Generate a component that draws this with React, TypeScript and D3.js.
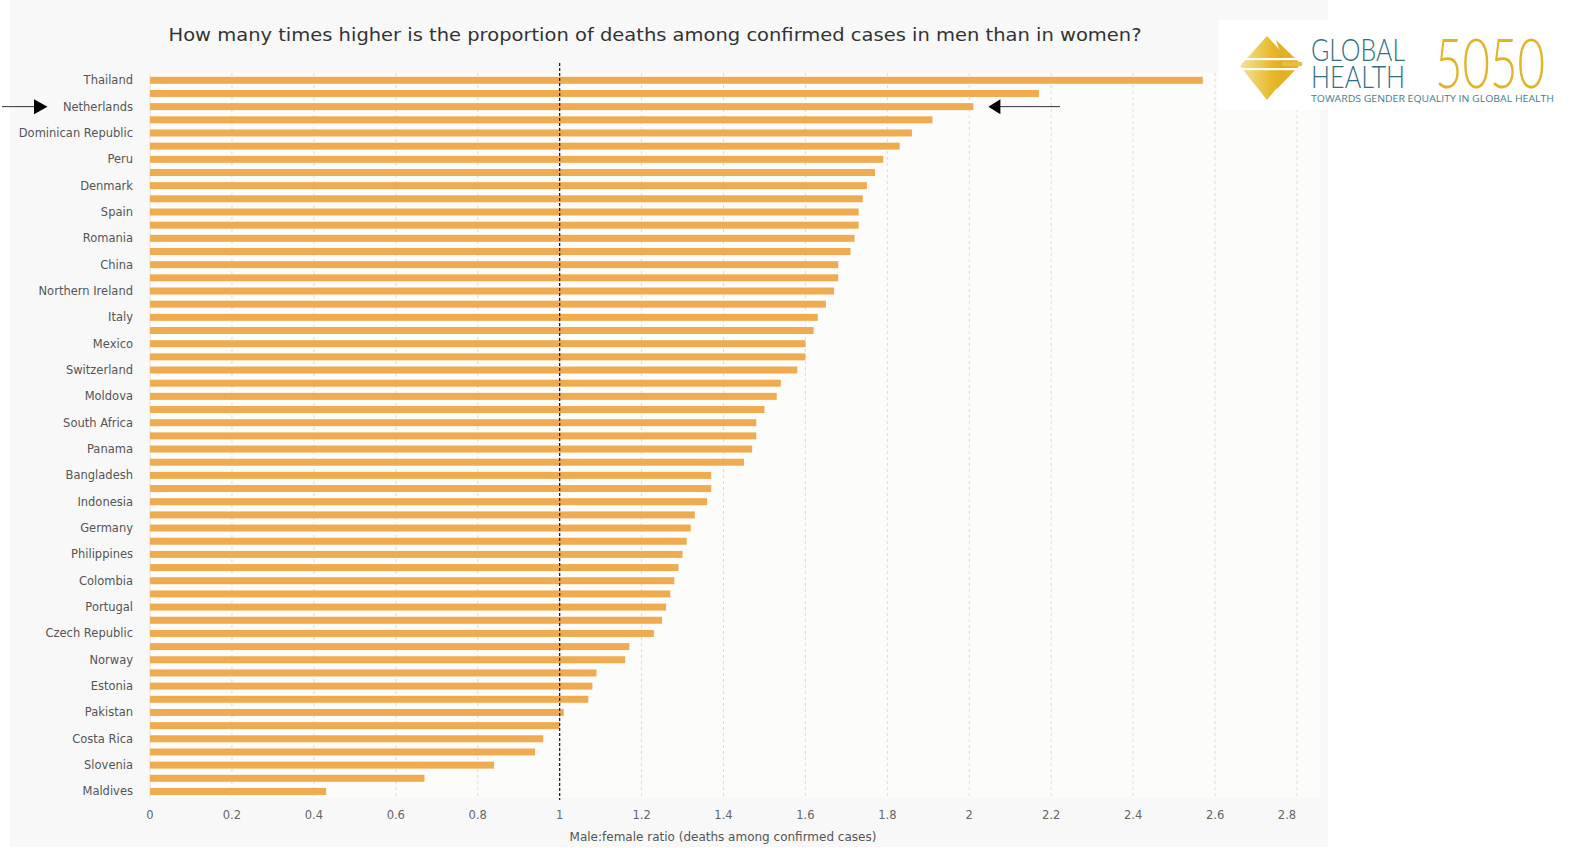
import React from "react";
import * as d3 from "d3";

const countries: string[] = [
  "Thailand", "Haiti", "Netherlands", "Greece", "Dominican Republic", "Ecuador", "Peru", "Scotland",
  "Denmark", "Belgium", "Spain", "England", "Romania", "Wales", "China", "Israel",
  "Northern Ireland", "Sweden", "Italy", "Finland", "Mexico", "Austria", "Switzerland", "Ukraine",
  "Moldova", "India", "South Africa", "Canada", "Panama", "Chile", "Bangladesh", "Argentina",
  "Indonesia", "Malawi", "Germany", "Nigeria", "Philippines", "Australia", "Colombia", "Kenya",
  "Portugal", "Iceland", "Czech Republic", "Jamaica", "Norway", "Guatemala", "Estonia", "Afghanistan",
  "Pakistan", "Sudan", "Costa Rica", "Cuba", "Slovenia", "Bulgaria", "Maldives",
];

const ratios: number[] = [
  2.57, 2.17, 2.01, 1.91, 1.86, 1.83, 1.79, 1.77,
  1.75, 1.74, 1.73, 1.73, 1.72, 1.71, 1.68, 1.68,
  1.67, 1.65, 1.63, 1.62, 1.60, 1.60, 1.58, 1.54,
  1.53, 1.50, 1.48, 1.48, 1.47, 1.45, 1.37, 1.37,
  1.36, 1.33, 1.32, 1.31, 1.30, 1.29, 1.28, 1.27,
  1.26, 1.25, 1.23, 1.17, 1.16, 1.09, 1.08, 1.07,
  1.01, 1.00, 0.96, 0.94, 0.84, 0.67, 0.43,
];

const xTicks: number[] = [0, 0.2, 0.4, 0.6, 0.8, 1, 1.2, 1.4, 1.6, 1.8, 2, 2.2, 2.4, 2.6, 2.8];

const titleText = "How many times higher is the proportion of deaths among confirmed cases in men than in women?";
const xAxisTitle = "Male:female ratio (deaths among confirmed cases)";
const highlighted = "Netherlands";

const W = 1572;
const H = 848;

export default function App() {
  const x = d3.scaleLinear().domain([0, 2.8]).range([150, 1297]);
  const y = d3
    .scaleBand<string>()
    .domain(countries)
    .range([73.7, 73.7 + 55 * 13.17])
    .paddingInner(0.47)
    .paddingOuter(0.235);
  const plotTop = 73;
  const plotBottom = 798;
  const font = "'DejaVu Sans', Verdana, sans-serif";
  const hy = (y(highlighted) ?? 0) + y.bandwidth() / 2;
  const hx = x(ratios[countries.indexOf(highlighted)]);

  return (
    <div style={{ position: "absolute", left: 0, top: 0 }}>
      <svg width={W} height={H} style={{ display: "block", background: "#ffffff" }}>
        <defs>
          <linearGradient id="gold" x1="0" y1="0" x2="1" y2="0">
            <stop offset="0" stopColor="#f6e39a" />
            <stop offset="0.6" stopColor="#e7b828" />
            <stop offset="1" stopColor="#d9a317" />
          </linearGradient>
        </defs>
        {/* card */}
        <rect x={10} y={0} width={1318} height={847} fill="#f8f8f8" />
        <rect x={150} y={plotTop} width={1170} height={plotBottom - plotTop} fill="#fcfcfa" />

        {/* title */}
        <text
          x={655}
          y={41}
          textAnchor="middle"
          fontFamily={font}
          fontSize={18.5}
          fill="#333"
          textLength={973}
          lengthAdjust="spacingAndGlyphs"
        >
          {titleText}
        </text>

        {/* grid lines */}
        {xTicks.map((t) =>
          t === 0 ? null : (
            <line
              key={"g" + t}
              x1={x(t)}
              x2={x(t)}
              y1={plotTop}
              y2={plotBottom}
              stroke="#dcdcdc"
              strokeWidth={1}
              strokeDasharray="3,3"
            />
          )
        )}
        <line x1={x(0)} x2={x(0)} y1={plotTop} y2={plotBottom} stroke="#e2e2e2" strokeWidth={1} />

        {/* bars */}
        {countries.map((c, i) => (
          <rect
            key={c}
            x={x(0)}
            y={y(c)}
            width={x(ratios[i]) - x(0)}
            height={y.bandwidth()}
            fill="#eeab50"
          />
        ))}

        {/* reference line at 1 */}
        <line
          x1={x(1)}
          x2={x(1)}
          y1={63}
          y2={plotBottom + 2}
          stroke="#222"
          strokeWidth={1.3}
          strokeDasharray="3,2"
        />

        {/* y labels (every other) */}
        {countries.map((c, i) =>
          i % 2 === 0 ? (
            <text
              key={"l" + c}
              x={133}
              y={(y(c) ?? 0) + y.bandwidth() / 2}
              dy="0.35em"
              textAnchor="end"
              fontFamily={font}
              fontSize={11.5}
              fill="#555"
            >
              {c}
            </text>
          ) : null
        )}

        {/* x tick labels */}
        {xTicks.map((t, i) => (
          <text
            key={"t" + t}
            x={i === xTicks.length - 1 ? x(t) - 10 : x(t)}
            y={819}
            textAnchor="middle"
            fontFamily={font}
            fontSize={11.5}
            fill="#666"
          >
            {String(t)}
          </text>
        ))}
        <text x={723} y={841} textAnchor="middle" fontFamily={font} fontSize={12} fill="#555">
          {xAxisTitle}
        </text>

        {/* arrows */}
        <line x1={2} x2={36} y1={hy} y2={hy} stroke="#333" strokeWidth={1} />
        <polygon points={`34,${hy - 7.5} 47.5,${hy} 34,${hy + 7.5}`} fill="#000" />
        <polygon points={`${hx + 15},${hy} ${hx + 27},${hy - 7.5} ${hx + 27},${hy + 7.5}`} fill="#000" />
        <line x1={hx + 26} x2={1060} y1={hy} y2={hy} stroke="#333" strokeWidth={1} />

        {/* logo */}
        <rect x={1219} y={20} width={343} height={90} fill="#ffffff" />
        <g>
          <polygon points="1240,66 1267,36 1294,66 1267,100" fill="url(#gold)" />
          <polygon points="1276,40 1301,64 1276,90 1284,64" fill="#e2b12a" />
          <rect x={1238} y={58} width={64} height={2.2} fill="#ffffff" />
          <rect x={1238} y={68} width={64} height={2.2} fill="#ffffff" />
          <rect x={1282} y={62} width={20} height={4} fill="#e9be3a" />
        </g>
        <text
          x={1311}
          y={60.5}
          fontFamily="Lato, 'Open Sans', sans-serif"
          fontWeight={300}
          fontSize={32}
          fill="#2f6f86"
          textLength={94}
          lengthAdjust="spacingAndGlyphs"
        >
          GLOBAL
        </text>
        <text
          x={1311}
          y={87.5}
          fontFamily="Lato, 'Open Sans', sans-serif"
          fontWeight={300}
          fontSize={32}
          fill="#2f6f86"
          textLength={94}
          lengthAdjust="spacingAndGlyphs"
        >
          HEALTH
        </text>
        <text
          x={1435}
          y={87.5}
          fontFamily="Lato, 'Open Sans', sans-serif"
          fontWeight={300}
          fontSize={68}
          fill="#e3b225"
          textLength={110}
          lengthAdjust="spacingAndGlyphs"
        >
          5050
        </text>
        <text
          x={1311}
          y={101.5}
          fontFamily="'Open Sans', Lato, sans-serif"
          fontSize={9.5}
          fill="#3f7d92"
          textLength={243}
          lengthAdjust="spacingAndGlyphs"
        >
          TOWARDS GENDER EQUALITY IN GLOBAL HEALTH
        </text>
      </svg>
    </div>
  );
}
